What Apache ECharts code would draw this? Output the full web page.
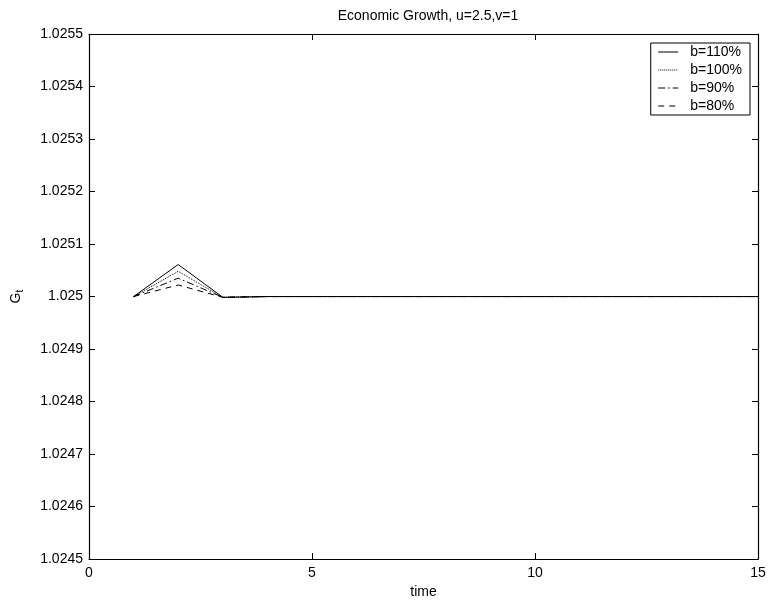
<!DOCTYPE html>
<html>
<head>
<meta charset="utf-8">
<script src="https://cdn.jsdelivr.net/npm/echarts@6/dist/echarts.min.js"></script>
<style>html,body{margin:0;padding:0;background:#fff}#c{width:770px;height:604px}</style>
</head>
<body>
<div id="c"></div>
<script>
var time = [1,2,3,4,5,6,7,8,9,10,11,12,13,14,15];
var seriesNames = ['b=110%','b=100%','b=90%','b=80%'];
var g110 = [1.025,1.025061,1.0249985,1.025,1.025,1.025,1.025,1.025,1.025,1.025,1.025,1.025,1.025,1.025,1.025];
var g100 = [1.025,1.025048,1.0249985,1.025,1.025,1.025,1.025,1.025,1.025,1.025,1.025,1.025,1.025,1.025,1.025];
var g90  = [1.025,1.025035,1.0249985,1.025,1.025,1.025,1.025,1.025,1.025,1.025,1.025,1.025,1.025,1.025,1.025];
var g80  = [1.025,1.025022,1.0249985,1.025,1.025,1.025,1.025,1.025,1.025,1.025,1.025,1.025,1.025,1.025,1.025];
var yTickLabels = ['1.0245','1.0246','1.0247','1.0248','1.0249','1.025','1.0251','1.0252','1.0253','1.0254','1.0255'];

var values = [g110,g100,g90,g80];
var dashTypes = ['solid','dotted',[7,3,1.5,3],[6,5]];
var FONT = 'Liberation Sans';
var FS = 14;

function pairs(arr){ return time.map(function(t,i){ return [t, arr[i]]; }); }

var chart = echarts.init(document.getElementById('c'));
var series = values.map(function(v,i){
  return {
    name: seriesNames[i], type:'line', data: pairs(v), symbol:'none', showSymbol:false,
    lineStyle:{color:'#000', width:1, type: dashTypes[i]}, itemStyle:{color:'#000'},
    animation:false
  };
});
var axisCommon = {
  axisLine:{show:true, onZero:false, lineStyle:{color:'#000', width:1.2}},
  axisTick:{show:true, inside:true, length:6, lineStyle:{color:'#000', width:1}},
  splitLine:{show:false}
};
chart.setOption({
  animation:false,
  backgroundColor:'#fff',
  title:{text:'Economic Growth, u=2.5,v=1', left: 423, top: 4, textAlign:'center',
    textStyle:{fontFamily:FONT, fontSize:FS, fontWeight:'normal', color:'#000'}},
  legend:{
    data: seriesNames, orient:'vertical', right: 20, top: 43,
    backgroundColor:'#fff', borderColor:'#000', borderWidth:1, borderRadius:0,
    padding:[2,8,2,7], itemGap:4, itemWidth:20, itemHeight:14,
    itemStyle:{opacity:0},
    lineStyle:{width:1, color:'#000'},
    textStyle:{fontFamily:FONT, fontSize:FS, color:'#000', padding:[0,0,0,7]}
  },
  grid:{left:89, right:12, top:34, bottom:41, containLabel:false},
  xAxis:[
    Object.assign({type:'value', min:0, max:15, interval:5, position:'bottom',
      name:'time', nameLocation:'middle', nameGap:21,
      nameTextStyle:{fontFamily:FONT, fontSize:FS, color:'#000'},
      axisLabel:{fontFamily:FONT, fontSize:FS, color:'#000', margin:7}}, axisCommon),
    Object.assign({type:'value', min:0, max:15, interval:5, position:'top',
      axisLabel:{show:false}}, axisCommon)
  ],
  yAxis:[
    Object.assign({type:'value', min:1.0245, max:1.0255, interval:0.0001, position:'left',
      name:'{g|G}{s|t}', nameLocation:'middle', nameGap:64, nameRotate:90,
      nameTextStyle:{rich:{g:{fontFamily:FONT, fontSize:FS, color:'#000'}, s:{fontFamily:FONT, fontSize:10, color:'#000', verticalAlign:'bottom', padding:[7,0,0,0]}}},
      axisLabel:{fontFamily:FONT, fontSize:FS, color:'#000', margin:6,
        formatter:function(v){ var idx = Math.round((v-1.0245)/0.0001); return yTickLabels[idx] || ''; }}}, axisCommon),
    Object.assign({type:'value', min:1.0245, max:1.0255, interval:0.0001, position:'right',
      axisLabel:{show:false}}, axisCommon)
  ],
  series: series
});
</script>
</body>
</html>
